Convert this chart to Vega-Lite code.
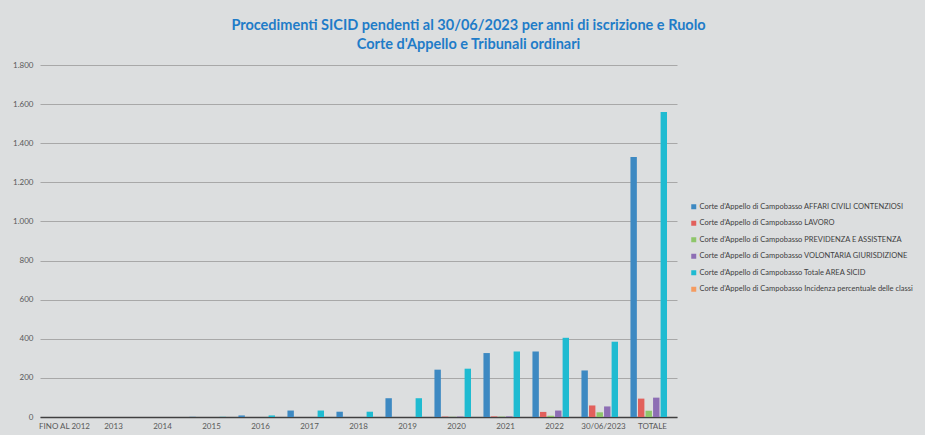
{
  "$schema": "https://vega.github.io/schema/vega-lite/v6.json",
  "autosize": "none",
  "width": 637,
  "height": 352,
  "padding": {"left": 40, "top": 65, "right": 248, "bottom": 18},
  "background": "#dcdedf",
  "title": {
    "text": ["Procedimenti SICID pendenti al 30/06/2023 per anni di iscrizione e Ruolo", "Corte d'Appello e Tribunali ordinari"],
    "anchor": "middle",
    "frame": "group",
    "dx": 110,
    "offset": 9,
    "font": "Lato",
    "fontSize": 14.5,
    "fontWeight": "bold",
    "color": "#1f7cc8",
    "lineHeight": 19
  },
  "data": {
    "values": [
      {"anno": "FINO AL 2012", "serie": "Corte d'Appello di Campobasso AFFARI CIVILI CONTENZIOSI", "valore": 0},
      {"anno": "FINO AL 2012", "serie": "Corte d'Appello di Campobasso LAVORO", "valore": 0},
      {"anno": "FINO AL 2012", "serie": "Corte d'Appello di Campobasso PREVIDENZA E ASSISTENZA", "valore": 0},
      {"anno": "FINO AL 2012", "serie": "Corte d'Appello di Campobasso VOLONTARIA GIURISDIZIONE", "valore": 0},
      {"anno": "FINO AL 2012", "serie": "Corte d'Appello di Campobasso Totale AREA SICID", "valore": 0},
      {"anno": "FINO AL 2012", "serie": "Corte d'Appello di Campobasso Incidenza percentuale delle classi", "valore": 0},
      {"anno": "2013", "serie": "Corte d'Appello di Campobasso AFFARI CIVILI CONTENZIOSI", "valore": 0},
      {"anno": "2013", "serie": "Corte d'Appello di Campobasso LAVORO", "valore": 0},
      {"anno": "2013", "serie": "Corte d'Appello di Campobasso PREVIDENZA E ASSISTENZA", "valore": 0},
      {"anno": "2013", "serie": "Corte d'Appello di Campobasso VOLONTARIA GIURISDIZIONE", "valore": 0},
      {"anno": "2013", "serie": "Corte d'Appello di Campobasso Totale AREA SICID", "valore": 0},
      {"anno": "2013", "serie": "Corte d'Appello di Campobasso Incidenza percentuale delle classi", "valore": 0},
      {"anno": "2014", "serie": "Corte d'Appello di Campobasso AFFARI CIVILI CONTENZIOSI", "valore": 0},
      {"anno": "2014", "serie": "Corte d'Appello di Campobasso LAVORO", "valore": 0},
      {"anno": "2014", "serie": "Corte d'Appello di Campobasso PREVIDENZA E ASSISTENZA", "valore": 0},
      {"anno": "2014", "serie": "Corte d'Appello di Campobasso VOLONTARIA GIURISDIZIONE", "valore": 0},
      {"anno": "2014", "serie": "Corte d'Appello di Campobasso Totale AREA SICID", "valore": 0},
      {"anno": "2014", "serie": "Corte d'Appello di Campobasso Incidenza percentuale delle classi", "valore": 0},
      {"anno": "2015", "serie": "Corte d'Appello di Campobasso AFFARI CIVILI CONTENZIOSI", "valore": 1},
      {"anno": "2015", "serie": "Corte d'Appello di Campobasso LAVORO", "valore": 0},
      {"anno": "2015", "serie": "Corte d'Appello di Campobasso PREVIDENZA E ASSISTENZA", "valore": 0},
      {"anno": "2015", "serie": "Corte d'Appello di Campobasso VOLONTARIA GIURISDIZIONE", "valore": 0},
      {"anno": "2015", "serie": "Corte d'Appello di Campobasso Totale AREA SICID", "valore": 1},
      {"anno": "2015", "serie": "Corte d'Appello di Campobasso Incidenza percentuale delle classi", "valore": 0},
      {"anno": "2016", "serie": "Corte d'Appello di Campobasso AFFARI CIVILI CONTENZIOSI", "valore": 8},
      {"anno": "2016", "serie": "Corte d'Appello di Campobasso LAVORO", "valore": 0},
      {"anno": "2016", "serie": "Corte d'Appello di Campobasso PREVIDENZA E ASSISTENZA", "valore": 0},
      {"anno": "2016", "serie": "Corte d'Appello di Campobasso VOLONTARIA GIURISDIZIONE", "valore": 0},
      {"anno": "2016", "serie": "Corte d'Appello di Campobasso Totale AREA SICID", "valore": 8},
      {"anno": "2016", "serie": "Corte d'Appello di Campobasso Incidenza percentuale delle classi", "valore": 0},
      {"anno": "2017", "serie": "Corte d'Appello di Campobasso AFFARI CIVILI CONTENZIOSI", "valore": 33},
      {"anno": "2017", "serie": "Corte d'Appello di Campobasso LAVORO", "valore": 0},
      {"anno": "2017", "serie": "Corte d'Appello di Campobasso PREVIDENZA E ASSISTENZA", "valore": 0},
      {"anno": "2017", "serie": "Corte d'Appello di Campobasso VOLONTARIA GIURISDIZIONE", "valore": 0},
      {"anno": "2017", "serie": "Corte d'Appello di Campobasso Totale AREA SICID", "valore": 33},
      {"anno": "2017", "serie": "Corte d'Appello di Campobasso Incidenza percentuale delle classi", "valore": 0},
      {"anno": "2018", "serie": "Corte d'Appello di Campobasso AFFARI CIVILI CONTENZIOSI", "valore": 27},
      {"anno": "2018", "serie": "Corte d'Appello di Campobasso LAVORO", "valore": 0},
      {"anno": "2018", "serie": "Corte d'Appello di Campobasso PREVIDENZA E ASSISTENZA", "valore": 0},
      {"anno": "2018", "serie": "Corte d'Appello di Campobasso VOLONTARIA GIURISDIZIONE", "valore": 0},
      {"anno": "2018", "serie": "Corte d'Appello di Campobasso Totale AREA SICID", "valore": 27},
      {"anno": "2018", "serie": "Corte d'Appello di Campobasso Incidenza percentuale delle classi", "valore": 0},
      {"anno": "2019", "serie": "Corte d'Appello di Campobasso AFFARI CIVILI CONTENZIOSI", "valore": 96},
      {"anno": "2019", "serie": "Corte d'Appello di Campobasso LAVORO", "valore": 0},
      {"anno": "2019", "serie": "Corte d'Appello di Campobasso PREVIDENZA E ASSISTENZA", "valore": 0},
      {"anno": "2019", "serie": "Corte d'Appello di Campobasso VOLONTARIA GIURISDIZIONE", "valore": 0},
      {"anno": "2019", "serie": "Corte d'Appello di Campobasso Totale AREA SICID", "valore": 96},
      {"anno": "2019", "serie": "Corte d'Appello di Campobasso Incidenza percentuale delle classi", "valore": 0},
      {"anno": "2020", "serie": "Corte d'Appello di Campobasso AFFARI CIVILI CONTENZIOSI", "valore": 242},
      {"anno": "2020", "serie": "Corte d'Appello di Campobasso LAVORO", "valore": 2},
      {"anno": "2020", "serie": "Corte d'Appello di Campobasso PREVIDENZA E ASSISTENZA", "valore": 1},
      {"anno": "2020", "serie": "Corte d'Appello di Campobasso VOLONTARIA GIURISDIZIONE", "valore": 2},
      {"anno": "2020", "serie": "Corte d'Appello di Campobasso Totale AREA SICID", "valore": 247},
      {"anno": "2020", "serie": "Corte d'Appello di Campobasso Incidenza percentuale delle classi", "valore": 0},
      {"anno": "2021", "serie": "Corte d'Appello di Campobasso AFFARI CIVILI CONTENZIOSI", "valore": 327},
      {"anno": "2021", "serie": "Corte d'Appello di Campobasso LAVORO", "valore": 3},
      {"anno": "2021", "serie": "Corte d'Appello di Campobasso PREVIDENZA E ASSISTENZA", "valore": 2},
      {"anno": "2021", "serie": "Corte d'Appello di Campobasso VOLONTARIA GIURISDIZIONE", "valore": 3},
      {"anno": "2021", "serie": "Corte d'Appello di Campobasso Totale AREA SICID", "valore": 335},
      {"anno": "2021", "serie": "Corte d'Appello di Campobasso Incidenza percentuale delle classi", "valore": 0},
      {"anno": "2022", "serie": "Corte d'Appello di Campobasso AFFARI CIVILI CONTENZIOSI", "valore": 335},
      {"anno": "2022", "serie": "Corte d'Appello di Campobasso LAVORO", "valore": 26},
      {"anno": "2022", "serie": "Corte d'Appello di Campobasso PREVIDENZA E ASSISTENZA", "valore": 6},
      {"anno": "2022", "serie": "Corte d'Appello di Campobasso VOLONTARIA GIURISDIZIONE", "valore": 33},
      {"anno": "2022", "serie": "Corte d'Appello di Campobasso Totale AREA SICID", "valore": 405},
      {"anno": "2022", "serie": "Corte d'Appello di Campobasso Incidenza percentuale delle classi", "valore": 0},
      {"anno": "30/06/2023", "serie": "Corte d'Appello di Campobasso AFFARI CIVILI CONTENZIOSI", "valore": 238},
      {"anno": "30/06/2023", "serie": "Corte d'Appello di Campobasso LAVORO", "valore": 59},
      {"anno": "30/06/2023", "serie": "Corte d'Appello di Campobasso PREVIDENZA E ASSISTENZA", "valore": 24},
      {"anno": "30/06/2023", "serie": "Corte d'Appello di Campobasso VOLONTARIA GIURISDIZIONE", "valore": 54},
      {"anno": "30/06/2023", "serie": "Corte d'Appello di Campobasso Totale AREA SICID", "valore": 385},
      {"anno": "30/06/2023", "serie": "Corte d'Appello di Campobasso Incidenza percentuale delle classi", "valore": 0},
      {"anno": "TOTALE", "serie": "Corte d'Appello di Campobasso AFFARI CIVILI CONTENZIOSI", "valore": 1329},
      {"anno": "TOTALE", "serie": "Corte d'Appello di Campobasso LAVORO", "valore": 94},
      {"anno": "TOTALE", "serie": "Corte d'Appello di Campobasso PREVIDENZA E ASSISTENZA", "valore": 32},
      {"anno": "TOTALE", "serie": "Corte d'Appello di Campobasso VOLONTARIA GIURISDIZIONE", "valore": 99},
      {"anno": "TOTALE", "serie": "Corte d'Appello di Campobasso Totale AREA SICID", "valore": 1560},
      {"anno": "TOTALE", "serie": "Corte d'Appello di Campobasso Incidenza percentuale delle classi", "valore": 0}
    ]
  },
  "mark": {"type": "bar"},
  "encoding": {
    "x": {
      "field": "anno",
      "type": "nominal",
      "sort": ["FINO AL 2012", "2013", "2014", "2015", "2016", "2017", "2018", "2019", "2020", "2021", "2022", "30/06/2023", "TOTALE"],
      "scale": {"paddingInner": 0.1, "paddingOuter": 0.05},
      "axis": {
        "title": null,
        "labelAngle": 0,
        "labelFont": "Lato",
        "labelFontSize": 8,
        "labelColor": "#595959",
        "labelPadding": 5,
        "ticks": false,
        "domainColor": "#404040",
        "domainWidth": 1.5,
        "grid": false
      }
    },
    "xOffset": {
      "field": "serie",
      "type": "nominal",
      "sort": ["Corte d'Appello di Campobasso AFFARI CIVILI CONTENZIOSI", "Corte d'Appello di Campobasso LAVORO", "Corte d'Appello di Campobasso PREVIDENZA E ASSISTENZA", "Corte d'Appello di Campobasso VOLONTARIA GIURISDIZIONE", "Corte d'Appello di Campobasso Totale AREA SICID", "Corte d'Appello di Campobasso Incidenza percentuale delle classi"],
      "scale": {"paddingInner": 0.15}
    },
    "y": {
      "field": "valore",
      "type": "quantitative",
      "scale": {"domain": [0, 1800], "nice": false},
      "axis": {
        "title": null,
        "values": [0, 200, 400, 600, 800, 1000, 1200, 1400, 1600, 1800],
        "labelExpr": "replace(format(datum.value, ','), ',', '.')",
        "labelFont": "Lato",
        "labelFontSize": 8,
        "labelColor": "#595959",
        "labelPadding": 7,
        "ticks": false,
        "domain": false,
        "gridColor": "#a8a8a8",
        "gridWidth": 1
      }
    },
    "color": {
      "field": "serie",
      "type": "nominal",
      "sort": ["Corte d'Appello di Campobasso AFFARI CIVILI CONTENZIOSI", "Corte d'Appello di Campobasso LAVORO", "Corte d'Appello di Campobasso PREVIDENZA E ASSISTENZA", "Corte d'Appello di Campobasso VOLONTARIA GIURISDIZIONE", "Corte d'Appello di Campobasso Totale AREA SICID", "Corte d'Appello di Campobasso Incidenza percentuale delle classi"],
      "scale": {"range": ["#3d89c2", "#e2605c", "#8ec66a", "#8d6eb4", "#1fbbd1", "#f59b60"]},
      "legend": {
        "title": null,
        "orient": "none",
        "legendX": 650,
        "legendY": 138,
        "symbolType": "square",
        "symbolSize": 25,
        "symbolStrokeWidth": 0,
        "labelFont": "Lato",
        "labelFontSize": 7.5,
        "labelColor": "#404040",
        "labelLimit": 400,
        "labelOffset": 2,
        "rowPadding": 7.5
      }
    }
  },
  "config": {
    "view": {"stroke": null}
  }
}
